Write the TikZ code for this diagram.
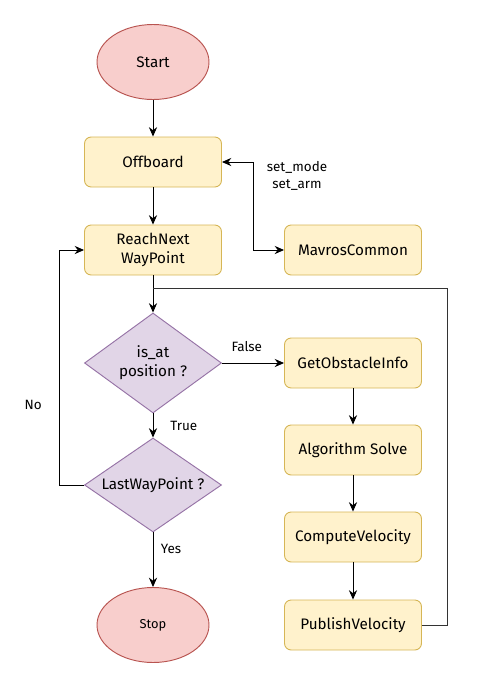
\documentclass[tikz,border=0pt]{standalone}
\usepackage{fontspec}
\setmainfont{Fira Sans}
\usetikzlibrary{shapes.geometric,arrows.meta}

\definecolor{termfill}{HTML}{F8CECC}
\definecolor{termline}{HTML}{B85450}
\definecolor{procfill}{HTML}{FFF2CC}
\definecolor{procline}{HTML}{D6B656}
\definecolor{decfill}{HTML}{E1D5E7}
\definecolor{decline}{HTML}{9673A6}

\tikzset{
  term/.style={ellipse, draw=termline, fill=termfill, line width=0.8pt,
    minimum width=3.36cm, minimum height=2.25cm, font=\fontsize{13}{16}\selectfont},
  proc/.style={rectangle, rounded corners=0.2cm, draw=procline, fill=procfill, line width=0.8pt,
    minimum width=4.11cm, minimum height=1.5cm, align=center, font=\fontsize{13}{16}\selectfont},
  dec/.style={diamond, draw=decline, fill=decfill, line width=0.8pt,
    minimum width=4.11cm, minimum height=3cm, inner sep=0pt},
  dectext/.style={align=center, font=\fontsize{13}{16}\selectfont},
  flow/.style={-{Stealth[length=8pt,width=7pt]}, line width=0.8pt},
  twoway/.style={{Stealth[length=8pt,width=7pt]}-{Stealth[length=8pt,width=7pt]}, line width=0.8pt},
  back/.style={line width=0.8pt, black!80},
  lbl/.style={font=\fontsize{11.5}{14}\selectfont}
}

\begin{document}
\begin{tikzpicture}[x=0.03cm, y=-0.03cm]
    \useasboundingbox (0,0) rectangle (483,690);

    % left column
    \node[term] (start) at (153, 62) {Start};
    \node[proc] (off) at (153, 162) {Offboard};
    \node[proc] (reach) at (153, 250) {ReachNext\\WayPoint};
    \node[dec, label={[dectext]center:is\_at\\position ?}] (pos) at (153, 363) {};
    \node[dec, minimum height=2.82cm, label={[dectext]center:LastWayPoint ?}] (last) at (153, 485) {};
    \node[term, font=\fontsize{11}{13}\selectfont] (stop) at (153, 625) {Stop};

    % right column
    \node[proc] (mav) at (353, 250) {MavrosCommon};
    \node[proc] (obst) at (353, 363) {GetObstacleInfo};
    \node[proc] (solve) at (353, 450) {Algorithm Solve};
    \node[proc] (comp) at (353, 537) {ComputeVelocity};
    \node[proc] (pub) at (353, 625) {PublishVelocity};

    \node[lbl, align=center] (cmd) at (297, 176) {set\_mode\\set\_arm};
    \coordinate (join) at (153, 288);

    \draw[flow] (start) -- (off);
    \draw[flow] (off) -- (reach);
    \draw[flow] (reach) -- (pos);
    \draw[twoway] (off.east) -- ++(31,0) |- (mav.west);
    \draw[flow] (pos) -- node[lbl, above, pos=0.4, yshift=6pt] {False} (obst);
    \draw[flow] (pos) -- node[lbl, right, xshift=11pt] {True} (last);
    \draw[flow] (last) -- node[lbl, right, pos=0.3, xshift=3pt] {Yes} (stop);
    \draw[flow] (last.west) -- ++(-25,0) |- node[lbl, pos=0.17, left, xshift=-11pt] {No} (reach.west);
    \draw[flow] (obst) -- (solve);
    \draw[flow] (solve) -- (comp);
    \draw[flow] (comp) -- (pub);
    \draw[back] (pub.east) -- ++(25,0) |- (join);
\end{tikzpicture}
\end{document}
